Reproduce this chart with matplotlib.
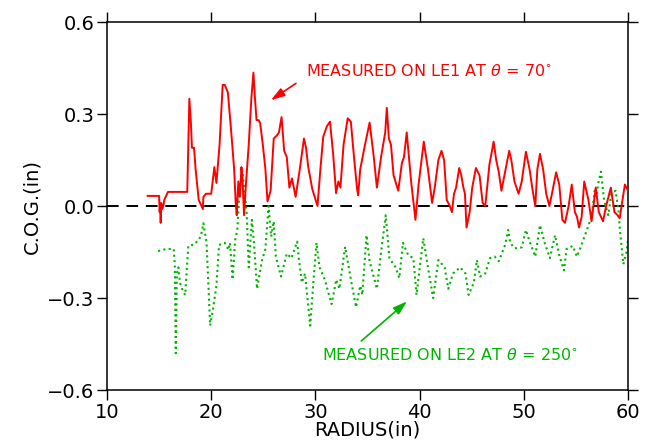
import numpy as np
import matplotlib
matplotlib.use("Agg")
import matplotlib.pyplot as plt

# ── Data ─────────────────────────────────────────────────────────────────────

le1_r = [13.9, 15.0, 15.05, 15.1, 15.15, 15.2, 15.3, 15.4, 15.5, 15.85, 17.7,
         17.9, 18.05, 18.15, 18.35, 18.5, 18.8, 19.2, 19.25, 19.5, 20.0, 20.3,
         20.5, 20.8, 21.1, 21.3, 21.6, 21.9, 22.2, 22.35, 22.45, 22.6, 22.75,
         22.9, 23.0, 23.15, 23.3, 23.6, 23.85, 24.05, 24.2, 24.35, 24.55, 24.7,
         24.95, 25.2, 25.4, 25.7, 26.0, 26.3, 26.5, 26.75, 27.0, 27.25, 27.5,
         27.75, 28.1, 28.5, 28.9, 29.1, 29.3, 29.7, 30.2, 30.5, 30.75, 31.1,
         31.4, 31.7, 31.98, 32.2, 32.4, 32.7, 33.1, 33.4, 33.7, 34.0, 34.1,
         34.3, 34.76, 35.2, 35.6, 35.9, 36.3, 36.7, 36.85, 37.05, 37.25, 37.5,
         37.95, 38.3, 38.5, 38.76, 39.2, 39.6, 39.9, 40.15, 40.4, 40.8, 41.2,
         41.45, 41.8, 42.1, 42.35, 42.6, 42.9, 43.1, 43.3, 43.5, 43.8, 44.0,
         44.2, 44.35, 44.5, 44.8, 45.05, 45.4, 45.75, 46.05, 46.3, 46.7, 47.1,
         47.35, 47.6, 47.85, 48.2, 48.6, 48.8, 49.1, 49.5, 49.8, 50.2, 50.55,
         50.85, 51.1, 51.3, 51.55, 51.85, 52.15, 52.45, 52.7, 53.1, 53.4, 53.7,
         53.95, 54.3, 54.6, 54.9, 55.1, 55.3, 55.55, 55.8, 56.2, 56.5, 56.9,
         57.2, 57.6, 57.9, 58.35, 58.7, 59.0, 59.2, 59.7, 60.0]
le1_cog = [0.033, 0.033, -0.02, 0.0, -0.055, 0.01, -0.01, 0.0, 0.02, 0.046,
           0.046, 0.35, 0.27, 0.19, 0.19, 0.12, 0.02, -0.01, 0.03, 0.04, 0.04,
           0.127, 0.075, 0.2, 0.395, 0.395, 0.37, 0.25, 0.12, 0.01, -0.03,
           0.08, 0.03, 0.127, 0.09, -0.03, 0.055, 0.2, 0.35, 0.435, 0.35, 0.28,
           0.28, 0.27, 0.2, 0.12, 0.015, 0.05, 0.22, 0.23, 0.24, 0.29, 0.18,
           0.16, 0.06, 0.09, 0.03, 0.12, 0.22, 0.19, 0.13, 0.055, 0.0, 0.13,
           0.226, 0.26, 0.275, 0.17, 0.042, 0.08, 0.06, 0.2, 0.286, 0.275,
           0.16, 0.055, 0.035, 0.12, 0.2, 0.272, 0.16, 0.06, 0.16, 0.24, 0.32,
           0.22, 0.2, 0.1, 0.05, 0.14, 0.16, 0.24, 0.075, -0.045, 0.07, 0.14,
           0.21, 0.12, 0.01, 0.06, 0.15, 0.18, 0.15, 0.02, 0.0, -0.02, 0.04,
           0.06, 0.124, 0.1, 0.06, 0.04, -0.07, -0.02, 0.06, 0.124, 0.1, 0.01,
           0.0, 0.135, 0.21, 0.15, 0.11, 0.05, 0.11, 0.18, 0.15, 0.08, 0.04,
           0.08, 0.177, 0.12, 0.05, 0.0, 0.12, 0.17, 0.12, 0.04, 0.0, 0.04,
           0.11, 0.07, -0.045, -0.055, 0.0, 0.07, -0.02, -0.035, -0.07, -0.035,
           0.08, 0.02, -0.05, 0.06, -0.02, -0.05, 0.0, 0.06, -0.02, -0.03,
           -0.04, 0.07, 0.05]

le2_r = [14.9, 15.7, 16.4, 16.5, 16.6, 16.7, 16.85, 17.0, 17.2, 17.5, 17.8,
         18.4, 19.0, 19.25, 19.55, 19.9, 20.2, 20.5, 20.75, 21.3, 21.65, 21.8,
         22.05, 22.3, 22.5, 22.75, 23.0, 23.2, 23.4, 23.6, 23.9, 24.1, 24.4,
         24.85, 25.2, 25.5, 25.75, 26.0, 26.2, 26.7, 27.25, 27.7, 28.25, 28.4,
         28.7, 29.0, 29.5, 29.8, 30.1, 30.4, 30.9, 31.55, 32.0, 32.3, 32.85,
         33.3, 33.9, 34.3, 34.5, 34.9, 35.2, 35.9, 36.3, 36.75, 37.1, 37.7,
         38.05, 38.4, 38.9, 39.4, 39.7, 40.35, 40.8, 41.3, 41.8, 42.4, 42.75,
         43.2, 43.9, 44.4, 44.7, 45.2, 45.5, 45.8, 46.3, 46.75, 47.2, 47.6,
         48.2, 48.5, 48.7, 49.1, 49.8, 50.2, 50.6, 51.1, 51.55, 52.0, 52.5,
         53.0, 53.4, 53.85, 54.1, 54.7, 55.1, 55.5, 56.05, 56.5, 56.8, 57.0,
         57.1, 57.4, 57.7, 58.1, 58.4, 58.8, 59.1, 59.2, 59.55, 59.85, 60.0]
le2_cog = [-0.147, -0.14, -0.14, -0.19, -0.48, -0.22, -0.2, -0.25, -0.27,
           -0.29, -0.13, -0.125, -0.1, -0.056, -0.12, -0.39, -0.33, -0.26,
           -0.127, -0.12, -0.143, -0.12, -0.24, -0.11, -0.078, 0.063, 0.11,
           0.05, -0.02, -0.2, -0.045, -0.12, -0.27, -0.18, -0.14, 0.0, -0.1,
           -0.05, -0.165, -0.23, -0.155, -0.17, -0.116, -0.17, -0.25, -0.22,
           -0.39, -0.25, -0.12, -0.2, -0.24, -0.32, -0.24, -0.27, -0.133,
           -0.22, -0.33, -0.26, -0.29, -0.095, -0.18, -0.27, -0.15, -0.03,
           -0.17, -0.2, -0.235, -0.12, -0.16, -0.17, -0.29, -0.105, -0.2,
           -0.3, -0.176, -0.2, -0.27, -0.22, -0.2, -0.22, -0.29, -0.25, -0.176,
           -0.23, -0.22, -0.17, -0.165, -0.18, -0.127, -0.078, -0.12, -0.138,
           -0.135, -0.078, -0.12, -0.165, -0.062, -0.12, -0.17, -0.095, -0.16,
           -0.21, -0.14, -0.13, -0.165, -0.13, -0.078, -0.035, 0.05, 0.03,
           0.068, 0.112, 0.02, -0.03, 0.04, 0.05, -0.02, -0.07, -0.19, -0.15,
           -0.11]

x_ticks = [10, 20, 30, 40, 50, 60]
y_ticks = [-0.6, -0.3, 0.0, 0.3, 0.6]
y_tick_labels = ["\u22120.6", "\u22120.3", "0.0", "0.3", "0.6"]

RED = "#ff0000"
GREEN = "#00b400"

plt.rcParams.update({
    "font.family": "DejaVu Sans",
    "font.size": 14,
    "mathtext.fontset": "dejavusans",
})

fig = plt.figure(figsize=(6.51, 4.43), dpi=100)
ax = fig.add_axes([0.1644, 0.1196, 0.8003, 0.8307])

ax.axhline(0.0, color="black", linestyle=(0, (6, 4)), linewidth=1.4,
           zorder=1, clip_on=False)
ax.plot(le1_r, le1_cog, color=RED, linewidth=1.4, zorder=3)
ax.plot(le2_r, le2_cog, color=GREEN, linestyle=(0, (1, 1.6)),
        linewidth=1.5, zorder=2)

ax.set_xlim(10, 60)
ax.set_ylim(-0.6, 0.6)
ax.set_xticks(x_ticks)
ax.set_yticks(y_ticks)
ax.set_yticklabels(y_tick_labels)
ax.tick_params(direction="out", length=7, width=1.0, top=True, right=True,
               labeltop=False, labelright=False, pad=2)
for sp in ax.spines.values():
    sp.set_linewidth(1.1)

ax.set_xlabel("RADIUS(in)", labelpad=-1)
ax.set_ylabel("C.O.G.(in)", labelpad=4)

# annotations
ax.annotate("", xy=(25.5, 0.34), xytext=(28.35, 0.405),
            arrowprops=dict(arrowstyle="-|>,head_width=0.22,head_length=0.7",
                            color=RED, lw=1.2, mutation_scale=12))
ax.text(29.1, 0.44, r"MEASURED ON LE1 AT $\theta$ = 70$^{\circ}$",
        color=RED, fontsize=11.5, ha="left", va="center")

ax.annotate("", xy=(39.0, -0.305), xytext=(34.2, -0.446),
            arrowprops=dict(arrowstyle="-|>,head_width=0.22,head_length=0.7",
                            color=GREEN, lw=1.2, mutation_scale=12))
ax.text(30.6, -0.487, r"MEASURED ON LE2 AT $\theta$ = 250$^{\circ}$",
        color=GREEN, fontsize=11.5, ha="left", va="center")

fig.savefig("out.png", dpi=100)
